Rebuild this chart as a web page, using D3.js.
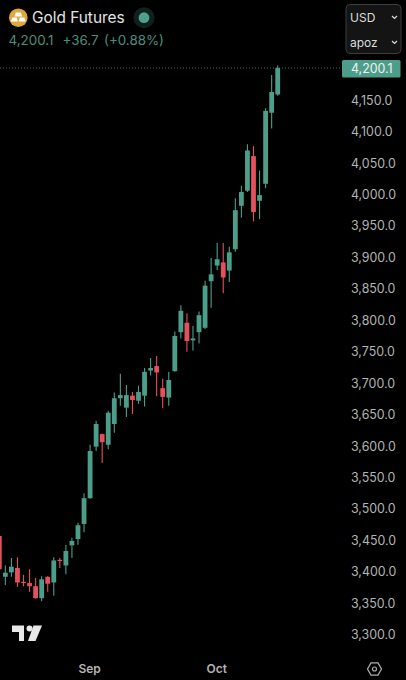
<!DOCTYPE html>
<html><head><meta charset="utf-8">
<script src="https://cdn.jsdelivr.net/npm/d3@7"></script>
<style>html,body{margin:0;padding:0;background:#000;overflow:hidden}svg{display:block;font-family:Inter,"Noto Sans",sans-serif}</style>
</head><body><svg id="c" width="406" height="680"></svg>
<script>
const dates=["08-11","08-12","08-13","08-14","08-15","08-18","08-19","08-20","08-21","08-22","08-25","08-26","08-27","08-28","08-29","09-02","09-03","09-04","09-05","09-08","09-09","09-10","09-11","09-12","09-15","09-16","09-17","09-18","09-19","09-22","09-23","09-24","09-25","09-26","09-29","09-30","10-01","10-02","10-03","10-06","10-07","10-08","10-09","10-10","10-13","10-14","10-15"];
const opens=[3456,3391,3398,3405,3383,3381,3376,3357,3391,3382,3418,3409,3441,3451,3475,3516,3598,3618,3601,3634,3675,3660,3679,3671,3679,3719,3726,3691,3676,3718,3780,3795,3767,3780,3787,3861,3886,3891,3878,3912,3981,4005,4060,3989,4016,4129,4158];
const highs=[3458,3409,3421,3422,3394,3403,3389,3392,3392,3422,3421,3442,3453,3477,3524,3601,3639,3619,3655,3684,3714,3696,3685,3695,3723,3739,3742,3706,3717,3781,3823,3810,3790,3813,3862,3898,3922,3922,3916,3993,4013,4079,4076,4037,4136,4189,4204];
const lows=[3402,3378,3391,3375,3376,3367,3356,3352,3367,3361,3405,3395,3421,3442,3462,3515,3591,3572,3594,3620,3663,3645,3650,3666,3662,3711,3678,3659,3663,3717,3770,3749,3751,3762,3785,3819,3879,3842,3860,3908,3962,4003,3956,3960,4009,4104,4156];
const closes=[3403,3397.5,3407,3382,3381,3376,3357,3387,3380,3417,3416,3432,3448,3473,3516,3591,3634,3605,3652,3675,3680,3680,3672,3685,3717,3723,3716,3677,3704,3774,3814,3766,3770,3807,3854,3872,3896,3867,3907,3974,4003,4069,3971,3998,4132,4162,4200.1];
const priceTicks=d3.range(3300,4200,50);
const lastPrice=4200.1;
const monthLabels=new Map([["09-02","Sep"],["10-01","Oct"]]);
const title="Gold Futures", quote=["4,200.1","+36.7","(+0.88%)"], selectors=["USD","apoz"];

const UP="#4c9e8a",DOWN="#e4505c",AX="#b4b4b4";
const svg=d3.select("#c");
const y=d3.scaleLinear().domain([3300,4200]).range([634,68.1]);
const x=d3.scalePoint().domain(dates).range([-0.7,277.7]);

// candles
const g=svg.append("g");
const idx=d3.range(dates.length);
g.selectAll("line.w").data(idx).join("line").attr("class","w")
 .attr("x1",i=>x(dates[i])).attr("x2",i=>x(dates[i]))
 .attr("y1",i=>y(highs[i])).attr("y2",i=>y(lows[i]))
 .attr("stroke",i=>closes[i]>=opens[i]?UP:DOWN).attr("stroke-width",1.1);
g.selectAll("rect.b").data(idx).join("rect").attr("class","b")
 .attr("x",i=>x(dates[i])-2.4).attr("width",4.8)
 .attr("y",i=>y(Math.max(opens[i],closes[i])))
 .attr("height",i=>Math.max(1.2,Math.abs(y(opens[i])-y(closes[i]))))
 .attr("fill",i=>closes[i]>=opens[i]?UP:DOWN);

// last price line
svg.append("line").attr("x1",0).attr("x2",342).attr("y1",y(lastPrice)).attr("y2",y(lastPrice))
 .attr("stroke",UP).attr("stroke-width",1).attr("stroke-dasharray","1 2").attr("opacity",.75);

// y axis
const ya=svg.append("g").attr("transform","translate(351,0.7)")
 .call(d3.axisRight(y).tickValues(priceTicks).tickSize(0).tickPadding(0).tickFormat(d3.format(",.1f")));
ya.select(".domain").remove();
ya.selectAll("text").attr("fill",AX).attr("font-size",12.4).attr("font-family","Inter,sans-serif");

// price tag
svg.append("rect").attr("x",342).attr("y",60).attr("width",58.5).attr("height",17.5).attr("rx",1.5).attr("fill",UP);
svg.append("text").attr("x",351).attr("y",y(lastPrice)+4.6).attr("fill","#f2f2f2").attr("font-size",12.4).text(d3.format(",.1f")(lastPrice));

// x axis
const xa=svg.append("g").attr("transform","translate(-1,664)")
 .call(d3.axisBottom(x).tickValues([...monthLabels.keys()]).tickSize(0).tickPadding(0).tickFormat(d=>monthLabels.get(d)));
xa.select(".domain").remove();
xa.selectAll("text").attr("fill",AX).attr("font-size",12).attr("font-weight",600).attr("font-family","Inter,sans-serif").attr("dy","0.71em").attr("y",0);

// header
const ic=svg.append("g").attr("transform","translate(18.3,17.7)");
ic.append("circle").attr("r",9.3).attr("fill","#dfa73e");
ic.append("path").attr("d","M-2.6,-5.2H2.6L3.8,-1.2H-3.8Z").attr("fill","#fff");
ic.append("path").attr("d","M-6,-.2H-1.6L-.4,3.8H-7.4ZM1.6,-.2H6L7.4,3.8H.4Z").attr("fill","#fff");
svg.append("text").attr("x",32).attr("y",22.7).attr("fill","#e4e4e4").attr("font-size",15.4).text(title);
svg.append("circle").attr("cx",144).attr("cy",17.7).attr("r",10.5).attr("fill","#12201d");
svg.append("circle").attr("cx",144).attr("cy",17.7).attr("r",5.4).attr("fill","#4f9f8b");
const qx=[8.5,62.5,104];
svg.selectAll("text.q").data(quote).join("text").attr("class","q").attr("x",(d,i)=>qx[i]).attr("y",45)
 .attr("fill","#4a8f7e").attr("font-size",13.4).text(d=>d);

// selectors
svg.append("rect").attr("x",346).attr("y",4.5).attr("width",55).attr("height",49).attr("rx",4).attr("fill","#141414").attr("stroke","#3d3d3d");
selectors.forEach((s,i)=>{
 const by=[22,47][i];
 svg.append("text").attr("x",350).attr("y",by).attr("fill","#dcdcdc").attr("font-size",12).text(s);
 svg.append("path").attr("d",`M392,${by-6}l2.5,2.4l2.5,-2.4`).attr("fill","none").attr("stroke","#dcdcdc").attr("stroke-width",1.2);
});

// logo
svg.append("path").attr("fill","#e8e8e8").attr("d","M12,625.5H24V641H19V632H12Z");
svg.append("circle").attr("cx",29.5).attr("cy",628.5).attr("r",3).attr("fill","#e8e8e8");
svg.append("path").attr("fill","#e8e8e8").attr("d","M33.5,625.5H42L35.5,641H28Z");

// settings hexagon
svg.append("path").attr("d",d3.range(6).map(i=>{const a=Math.PI/3*i;return (i?"L":"M")+(374.5+7*Math.cos(a)).toFixed(2)+","+(669+7*Math.sin(a)).toFixed(2)}).join("")+"Z")
 .attr("fill","none").attr("stroke","#b0b0b0").attr("stroke-width",1.2);
svg.append("circle").attr("cx",374.5).attr("cy",669).attr("r",2).attr("fill","none").attr("stroke","#b0b0b0").attr("stroke-width",1.1);
</script></body></html>
